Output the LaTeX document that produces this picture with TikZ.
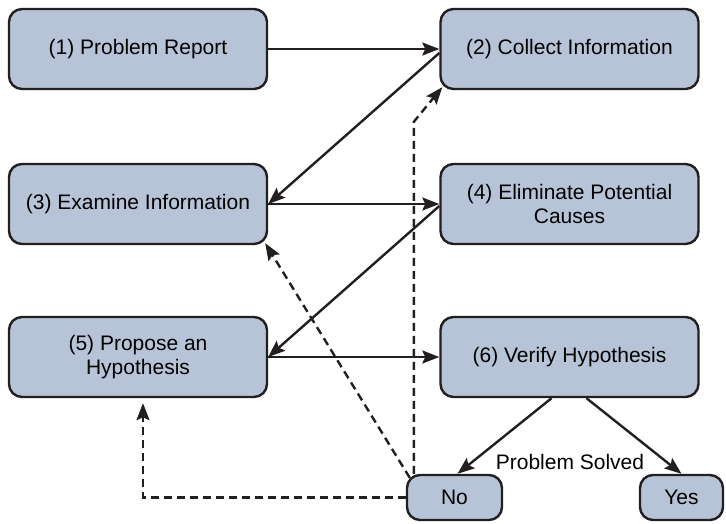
\documentclass[tikz,border=0pt]{standalone}
\usepackage{fontspec}
\setmainfont{Liberation Sans}
\usetikzlibrary{arrows.meta}
\definecolor{boxblue}{RGB}{183,196,216}
\definecolor{inkline}{RGB}{35,31,32}

\begin{document}
\begin{tikzpicture}[x = 1pt, y = -1pt,
	stage/.style = {draw = inkline, line width = 2.4pt, fill = boxblue, rounded corners = 13pt,
		minimum width = 258pt, minimum height = 80pt, align = center, font = \fontsize{21}{24}\selectfont},
	answer/.style = {stage, minimum width = 95pt, minimum height = 45pt},
	flow/.style = {draw = inkline, line width = 2.4pt, -{Stealth[length = 17pt, width = 13pt, inset = 3pt]}},
	back/.style = {flow, dash pattern = on 8pt off 5pt}]
	\useasboundingbox (0,0) rectangle (726,523);
	\node[stage] (report) at (138,49) {(1) Problem Report};
	\node[stage] (collect) at (569.5,49) {(2) Collect Information};
	\node[stage] (examine) at (138,204) {(3) Examine Information};
	\node[stage] (eliminate) at (569.5,204) {(4) Eliminate Potential\\Causes};
	\node[stage] (propose) at (138,357) {(5) Propose an\\Hypothesis};
	\node[stage] (verify) at (569.5,357) {(6) Verify Hypothesis};
	\node[answer] (no) at (454.5,497.5) {No};
	\node[answer, minimum width = 83pt] (yes) at (681.5,497.5) {Yes};
	\node[font = \fontsize{21}{24}\selectfont] (solved) at (570,462) {Problem Solved};
	\draw[flow] (report) -- (collect);
	\draw[flow] ([yshift = -4pt]collect.west) -- (examine.east);
	\draw[flow] (examine) -- (eliminate);
	\draw[flow] ([yshift = -2pt]eliminate.west) -- (propose.east);
	\draw[flow] (propose) -- (verify);
	\draw[flow] ([xshift = -18pt]verify.south) -- ([xshift = 3pt]no.north);
	\draw[flow] ([xshift = 17pt]verify.south) -- (yes.north);
	\draw[back] ([xshift = 8pt]no.north west) -- ++(0,-352) -- ([xshift = 3pt, yshift = 3pt]collect.south west);
	\draw[back] ([xshift = 4pt, yshift = -4pt]no.north west) -- ([xshift = -3pt, yshift = 2pt]examine.south east);
	\draw[back] (no.west) -| ([xshift = 5pt, yshift = -5pt]propose.south);
\end{tikzpicture}
\end{document}
